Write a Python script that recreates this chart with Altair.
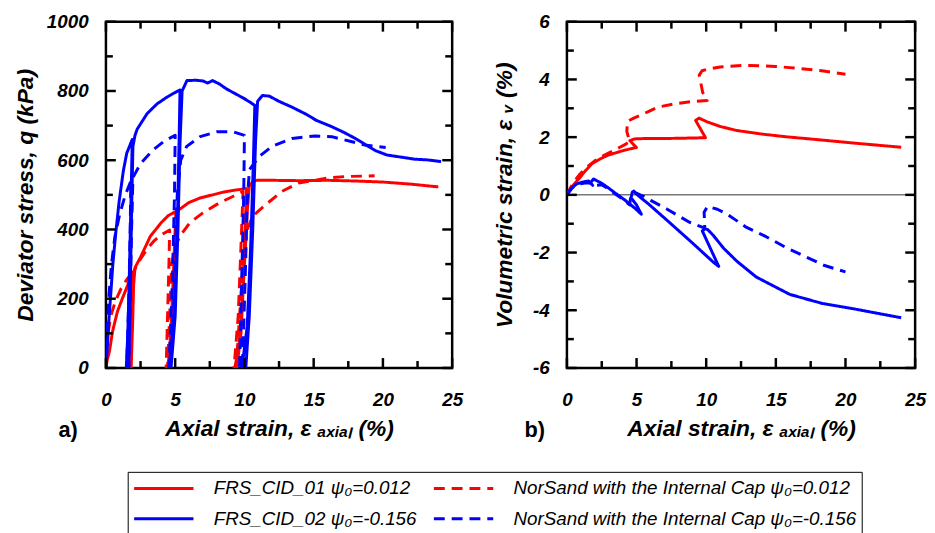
import altair as alt
import pandas as pd

SERIES = ["FRS_CID_01 ψ₀=0.012", "NorSand with the Internal Cap ψ₀=0.012",
          "FRS_CID_02 ψ₀=-0.156", "NorSand with the Internal Cap ψ₀=-0.156"]
LEGEND_ORDER = [SERIES[0], SERIES[2], SERIES[1], SERIES[3]]
COLORS = ["#ff0000", "#ff0000", "#0000ff", "#0000ff"]
DASHES = [[1, 0], [11, 7], [1, 0], [11, 7]]

# ---------------- panel a) deviator stress q (kPa) vs axial strain (%)
a_frs01_x = [0, 0.1, 0.24, 0.48, 0.83, 1.19, 1.67, 1.95, 1.88, 1.8, 1.72, 1.82, 1.92, 2.0, 2.1,
             2.5, 3.2, 4.0, 4.5, 5.05, 4.95, 4.8, 4.65, 4.48, 4.6, 4.85, 5.05, 5.2, 6.0, 6.8,
             7.5, 8.5, 9.2, 10.15, 10.05, 9.85, 9.6, 9.3, 9.45, 9.75, 10.0, 10.2, 10.35, 10.6,
             10.9, 12, 14, 16, 18, 20, 22, 24]
a_frs01_q = [0, 25, 45, 106, 163, 201, 249, 272, 180, 80, 0, 0, 120, 240, 290,
             320, 380, 420, 440, 452, 350, 200, 80, 0, 0, 150, 350, 455, 478, 491,
             498, 508, 513, 518, 400, 200, 60, 0, 0, 100, 300, 450, 525, 538,
             542, 542, 541, 542, 540, 537, 531, 523]

a_ns01_x = [0, 0.05, 0.15, 0.35, 0.7, 1.1, 1.5, 1.8, 1.75, 1.68, 1.78, 1.85, 1.95, 2.5, 3.0,
            3.5, 4.0, 4.6, 4.55, 4.45, 4.35, 4.45, 4.6, 4.75, 5.0, 5.36, 6.07, 7.0, 8.2, 9.2,
            9.9, 9.75, 9.55, 9.25, 9.4, 9.65, 9.9, 10.2, 10.6, 11.55, 12.7, 13.9, 16.1, 17.3,
            19.4]
a_ns01_q = [0, 50, 100, 150, 195, 230, 255, 270, 150, 0, 0, 150, 275, 315, 345,
            368, 385, 398, 300, 150, 0, 0, 150, 300, 350, 382, 420, 448, 477, 496,
            510, 350, 150, 0, 0, 150, 300, 400, 439, 472, 510, 534, 549, 553,
            555]

a_frs02_x = [0, 0.1, 0.2, 0.36, 0.5, 0.71, 0.95, 1.26, 1.5, 1.9, 1.82, 1.68, 1.58, 1.47,
             1.65, 1.75, 1.85, 1.95, 2.1, 2.26, 2.98, 3.7, 4.4, 5.1, 5.35, 5.28, 5.15, 4.95,
             4.55, 4.7, 5.0, 5.2, 5.35, 5.5, 5.85, 6.5, 7.0, 7.35, 7.7, 8.2, 8.7, 9.3, 9.9,
             10.4, 10.75, 10.65, 10.45, 10.2, 9.82, 10.1, 10.35, 10.6, 10.8, 10.95, 11.3,
             11.8, 12.5, 13.45, 14.4, 15.2, 16.3, 17.2, 18.0, 18.7, 19.5, 20.3, 21.3, 22.3,
             23.2, 24.2]
a_frs02_q = [0, 60, 130, 220, 300, 390, 480, 570, 620, 660, 500, 250, 100, 0,
             0, 200, 450, 640, 672, 690, 735, 763, 782, 798, 803, 650, 400, 150,
             0, 0, 150, 400, 650, 800, 830, 831, 829, 823, 830, 820, 806, 793, 780,
             768, 758, 600, 350, 120, 0, 0, 150, 400, 650, 770, 787,
             785, 770, 753, 734, 715, 697, 680, 663, 646, 627, 615, 609, 603,
             601, 596]

a_ns02_x = [0, 0.08, 0.2, 0.4, 0.65, 1.0, 1.4, 1.8, 1.75, 1.65, 1.5, 1.65, 1.75, 1.85, 1.95,
            2.5, 3.0, 3.5, 4.2, 5.0, 4.95, 4.8, 4.55, 4.7, 4.95, 5.15, 5.4, 5.83, 6.8, 8.0,
            9.2, 10.0, 9.95, 9.8, 9.65, 9.85, 10.05, 10.2, 10.36, 11.07, 12.0, 13.45, 15.1,
            16.3, 17.7, 18.7, 20.2]
a_ns02_q = [0, 100, 200, 300, 380, 445, 500, 540, 400, 200, 0, 0, 200, 400, 550,
            590, 612, 633, 655, 672, 500, 250, 0, 0, 250, 500, 600, 640, 668, 682,
            682, 672, 500, 250, 0, 0, 250, 480, 573, 611, 640, 663, 670,
            668, 654, 644, 637]

# ---------------- panel b) volumetric strain (%) vs axial strain (%)
b_frs01_x = [0, 0.3, 0.85, 1.3, 1.8, 2.4, 2.98, 3.6, 4.16, 4.6, 4.99, 4.52, 4.87, 5.5, 6.52,
             8.0, 9.0, 9.95, 9.24, 9.48, 10.07, 11.0, 12.2, 14.1, 15.8, 18.3, 20.7, 24.0]
b_frs01_v = [0, 0.25, 0.55, 0.82, 1.08, 1.25, 1.38, 1.47, 1.55, 1.6, 1.64, 1.88, 1.94, 1.95, 1.95,
             1.96, 1.97, 1.98, 2.58, 2.66, 2.53, 2.37, 2.23, 2.1, 2.01, 1.9, 1.79, 1.65]

b_ns01_x = [0, 0.4, 0.9, 1.4, 2.0, 2.6, 3.2, 3.8, 4.2, 4.5, 4.3, 4.35, 4.8, 5.23, 6.0, 6.52,
            7.7, 8.9, 10.07, 9.75, 9.5, 9.7, 10.1, 11.0, 12.7, 15.0, 16.0, 18.3, 20.0]
b_ns01_v = [0, 0.38, 0.7, 0.95, 1.18, 1.35, 1.5, 1.65, 1.75, 1.85, 2.2, 2.55, 2.66, 2.75, 2.92,
            3.04, 3.15, 3.23, 3.27, 3.55, 4.15, 4.3, 4.36, 4.43, 4.49, 4.45, 4.41, 4.3, 4.18]

b_frs02_x = [0, 0.3, 0.7, 1.2, 1.56, 1.85, 1.7, 1.91, 2.5, 2.98, 3.5, 4.16, 4.87, 5.34, 5.0,
             4.6, 4.7, 4.8, 4.95, 5.3, 5.82, 7.23, 8.9, 10.55, 10.9, 9.72, 9.9, 10.1, 10.5,
             11.25, 12.2, 13.6, 16.0, 18.3, 20.7, 24.0]
b_frs02_v = [0, 0.22, 0.38, 0.45, 0.48, 0.33, 0.42, 0.55, 0.4, 0.24, 0.05, -0.18, -0.46, -0.67, -0.35,
             -0.1, 0.1, 0.13, 0.05, -0.1, -0.3, -0.9, -1.62, -2.35, -2.48, -1.25, -1.18, -1.2, -1.4,
             -1.85, -2.3, -2.85, -3.45, -3.76, -3.96, -4.26]

b_ns02_x = [0, 0.4, 0.9, 1.4, 1.7, 1.9, 2.5, 3.0, 3.5, 4.0, 4.5, 4.6, 4.9, 5.5, 6.05, 7.2,
            8.8, 9.9, 9.85, 10.1, 10.8, 11.5, 12.9, 14.3, 15.7, 17.2, 18.5, 20.0]
b_ns02_v = [0, 0.25, 0.38, 0.42, 0.4, 0.32, 0.35, 0.2, 0.02, -0.15, -0.35, 0.0, 0.08, -0.05, -0.2, -0.5,
            -0.95, -1.15, -0.6, -0.4, -0.5, -0.67, -1.13, -1.45, -1.82, -2.16, -2.45, -2.67]

# ---------------- axes
a_x_major = [0, 5, 10, 15, 20, 25]
a_x_minor = [2.5, 7.5, 12.5, 17.5, 22.5]
a_y_major = [0, 200, 400, 600, 800, 1000]
a_y_minor = [100, 300, 500, 700, 900]
b_y_major = [-6, -4, -2, 0, 2, 4, 6]
b_y_minor = [-5, -3, -1, 1, 3, 5]

FONT = "Liberation Sans"
X_TITLE = "Axial strain, ε ₐₓᵢₐₗ (%)"
LABEL_EXPR = "datum.value < 0 ? '-' + abs(datum.value) : '' + datum.value"


def series_df(name, xs, ys):
    return pd.DataFrame({"series": name, "x": xs, "y": ys, "i": list(range(len(xs)))})


LEG = alt.Legend(
    title=None, orient="none", legendX=22, legendY=455, columns=2, values=LEGEND_ORDER,
    gridAlign="each",
    symbolType="M-1,0H5", symbolSize=400, symbolStrokeWidth=3,
    labelFont=FONT, labelFontStyle="italic", labelFontSize=19, labelColor="black",
    labelLimit=600, labelOffset=59, columnPadding=10, rowPadding=9, padding=5,
    strokeColor="black",
)


def panel(df, ydom, ymaj, ymin, w, h, ytitle, ytitle_pad, tag, tag_x, zero=False):
    xs = alt.Scale(domain=[0, 25], nice=False, zero=False)
    ys = alt.Scale(domain=ydom, nice=False, zero=False)
    xaxis = alt.Axis(values=a_x_major, title=X_TITLE, labelPadding=23, titlePadding=8,
                     labelFlush=False, labelExpr=LABEL_EXPR)
    yaxis = alt.Axis(values=ymaj, title=ytitle, labelPadding=18, titlePadding=ytitle_pad,
                     labelExpr=LABEL_EXPR)
    layers = []
    if zero:
        layers.append(alt.Chart(pd.DataFrame({"y": [0]})).mark_rule(color="#777777", strokeWidth=1.5)
                      .encode(y=alt.Y("y:Q", scale=ys, axis=yaxis)))
    layers.append(
        alt.Chart(df).mark_line(strokeWidth=3, clip=True, strokeJoin="round").encode(
            x=alt.X("x:Q", scale=xs, axis=xaxis),
            y=alt.Y("y:Q", scale=ys, axis=yaxis),
            color=alt.Color("series:N", scale=alt.Scale(domain=SERIES, range=COLORS), legend=LEG),
            strokeDash=alt.StrokeDash("series:N", scale=alt.Scale(domain=SERIES, range=DASHES), legend=LEG),
            order=alt.Order("i:Q"),
        )
    )

    def xt(vals, length):
        c = alt.Chart(pd.DataFrame({"x": vals})).mark_rule(color="black", strokeWidth=2.5)
        bottom = c.encode(x=alt.X("x:Q", scale=xs, axis=xaxis), y=alt.value(h), y2=alt.value(h - length))
        top = c.encode(x=alt.X("x:Q", scale=xs, axis=xaxis), y=alt.value(0), y2=alt.value(length))
        return [bottom, top]

    def yt(vals, length):
        c = alt.Chart(pd.DataFrame({"y": vals})).mark_rule(color="black", strokeWidth=2.5)
        left = c.encode(y=alt.Y("y:Q", scale=ys, axis=yaxis), x=alt.value(0), x2=alt.value(length))
        right = c.encode(y=alt.Y("y:Q", scale=ys, axis=yaxis), x=alt.value(w), x2=alt.value(w - length))
        return [left, right]

    layers += xt(a_x_major, 10) + xt(a_x_minor, 7) + yt(ymaj, 10) + yt(ymin, 7)
    layers.append(
        alt.Chart(pd.DataFrame({"t": [tag]})).mark_text(
            font=FONT, fontSize=22, fontWeight="bold", align="left", baseline="middle", color="black"
        ).encode(x=alt.value(tag_x), y=alt.value(h + 63), text="t:N")
    )
    return alt.layer(*layers).properties(width=w, height=h)


df_a = pd.concat([
    series_df(SERIES[0], a_frs01_x, a_frs01_q),
    series_df(SERIES[1], a_ns01_x, a_ns01_q),
    series_df(SERIES[2], a_frs02_x, a_frs02_q),
    series_df(SERIES[3], a_ns02_x, a_ns02_q),
])
df_b = pd.concat([
    series_df(SERIES[0], b_frs01_x, b_frs01_v),
    series_df(SERIES[1], b_ns01_x, b_ns01_v),
    series_df(SERIES[2], b_frs02_x, b_frs02_v),
    series_df(SERIES[3], b_ns02_x, b_ns02_v),
])

left = panel(df_a, [0, 1000], a_y_major, a_y_minor, 350, 350,
             "Deviator stress, q (kPa)", 9, "a)", -48)
right = panel(df_b, [-6, 6], b_y_major, b_y_minor, 352, 350,
              "Volumetric strain, ε ᵥ (%)", 16, "b)", -43, zero=True)

chart = alt.hconcat(left, right, spacing=28).resolve_scale(
    x="independent", y="independent", color="shared", strokeDash="shared"
).configure_view(
    stroke="black", strokeWidth=2.5
).configure_axis(
    ticks=False, tickSize=0, domain=False, grid=False,
    labelFont=FONT, labelFontWeight="bold", labelFontStyle="italic", labelFontSize=19, labelColor="black",
    titleFont=FONT, titleFontWeight="bold", titleFontStyle="italic", titleFontSize=23, titleColor="black",
).properties(
    padding={"left": 5, "top": 0, "right": 0, "bottom": 0}, background="white"
)

chart.save("out.html", embed_options={"renderer": "svg", "actions": False})
